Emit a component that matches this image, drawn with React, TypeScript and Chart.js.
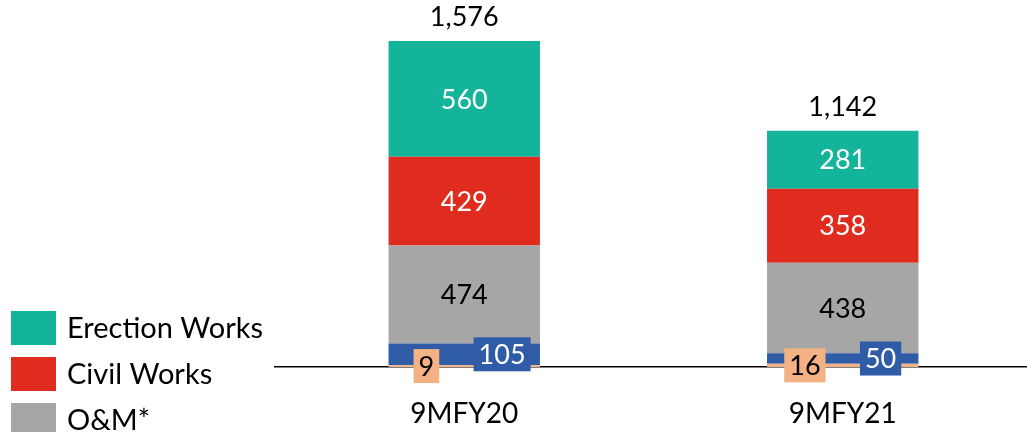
import React, { useEffect, useRef } from 'react';
import { Chart, registerables } from 'chart.js';

Chart.register(...registerables);

const categories = ['9MFY20', '9MFY21'];
const othersValues = [9, 16];
const transmissionValues = [105, 50];
const omValues = [474, 438];
const civilValues = [429, 358];
const erectionValues = [560, 281];
const totalLabels = ['1,576', '1,142'];

const FONT = 'Lato, "Open Sans", sans-serif';

const labelPlugin = {
  id: 'segLabels',
  afterDatasetsDraw(chart: any) {
    const ctx = chart.ctx;
    ctx.save();
    ctx.textAlign = 'center';
    ctx.textBaseline = 'middle';
    chart.data.datasets.forEach((ds: any, di: number) => {
      const meta = chart.getDatasetMeta(di);
      meta.data.forEach((bar: any, i: number) => {
        const p = bar.getProps(['x', 'y', 'base', 'width'], true);
        const cy = (p.y + p.base) / 2;
        let cx = p.x;
        if (ds.labelPos === 'left') cx = p.x - p.width * 0.25;
        if (ds.labelPos === 'right') cx = p.x + p.width * 0.25;
        const text = String(ds.data[i]);
        ctx.font = `27px ${FONT}`;
        if (ds.labelBox) {
          const w = ctx.measureText(text).width + 10;
          const h = 34;
          ctx.fillStyle = ds.labelBox;
          ctx.fillRect(cx - w / 2, cy - h / 2, w, h);
        }
        ctx.fillStyle = ds.labelColor;
        ctx.fillText(text, cx, cy + 1);
      });
    });
    const topMeta = chart.getDatasetMeta(chart.data.datasets.length - 1);
    topMeta.data.forEach((bar: any, i: number) => {
      ctx.fillStyle = '#000';
      ctx.font = `27px ${FONT}`;
      ctx.textBaseline = 'alphabetic';
      ctx.fillText(totalLabels[i], bar.x, bar.y - 15);
    });
    ctx.restore();
  },
};

const legendPlugin = {
  id: 'sideLegend',
  afterDraw(chart: any) {
    const ctx = chart.ctx;
    ctx.save();
    const items = [...chart.data.datasets].reverse();
    items.forEach((ds: any, k: number) => {
      const y = 311 + k * 46;
      ctx.fillStyle = ds.backgroundColor;
      ctx.fillRect(11, y, 45, 34);
      ctx.fillStyle = '#000';
      ctx.font = `29px ${FONT}`;
      ctx.textAlign = 'left';
      ctx.textBaseline = 'middle';
      ctx.fillText(ds.label, 67, y + 18);
    });
    ctx.restore();
  },
};

export default function App() {
  const ref = useRef<HTMLCanvasElement>(null);
  useEffect(() => {
    document.body.style.margin = '0';
    const chart = new Chart(ref.current!, {
      type: 'bar',
      data: {
        labels: categories,
        datasets: [
          { label: 'Others', data: othersValues, backgroundColor: '#F4B183', labelPos: 'left', labelColor: '#000', labelBox: '#F4B183' } as any,
          { label: 'Transmission Works', data: transmissionValues, backgroundColor: '#2F5BA7', labelPos: 'right', labelColor: '#fff', labelBox: '#2F5BA7' } as any,
          { label: 'O&M*', data: omValues, backgroundColor: '#A6A6A6', labelPos: 'center', labelColor: '#000' } as any,
          { label: 'Civil Works', data: civilValues, backgroundColor: '#DF2C1F', labelPos: 'center', labelColor: '#fff' } as any,
          { label: 'Erection Works', data: erectionValues, backgroundColor: '#14B49B', labelPos: 'center', labelColor: '#fff' } as any,
        ],
      },
      options: {
        responsive: false,
        animation: false,
        layout: { padding: { left: 275, right: 0, top: 0, bottom: 0 } },
        datasets: { bar: { barPercentage: 0.4, categoryPercentage: 1 } },
        plugins: { legend: { display: false }, tooltip: { enabled: false } },
        scales: {
          x: {
            stacked: true,
            grid: { display: false },
            border: { display: true, color: '#000', width: 1.5 },
            ticks: { color: '#000', font: { family: FONT, size: 28 }, padding: 22, maxRotation: 0 },
            afterFit: (scale: any) => { scale.height = 65; },
          },
          y: { stacked: true, display: false, min: 0, max: 1775 },
        },
      },
      plugins: [labelPlugin, legendPlugin],
    });
    return () => chart.destroy();
  }, []);
  return (
    <div style={{ position: 'fixed', left: 0, top: 0, width: 1027, height: 432, overflow: 'hidden', background: '#fff' }}>
      <canvas ref={ref} width={1032} height={432} style={{ display: 'block' }} />
    </div>
  );
}
